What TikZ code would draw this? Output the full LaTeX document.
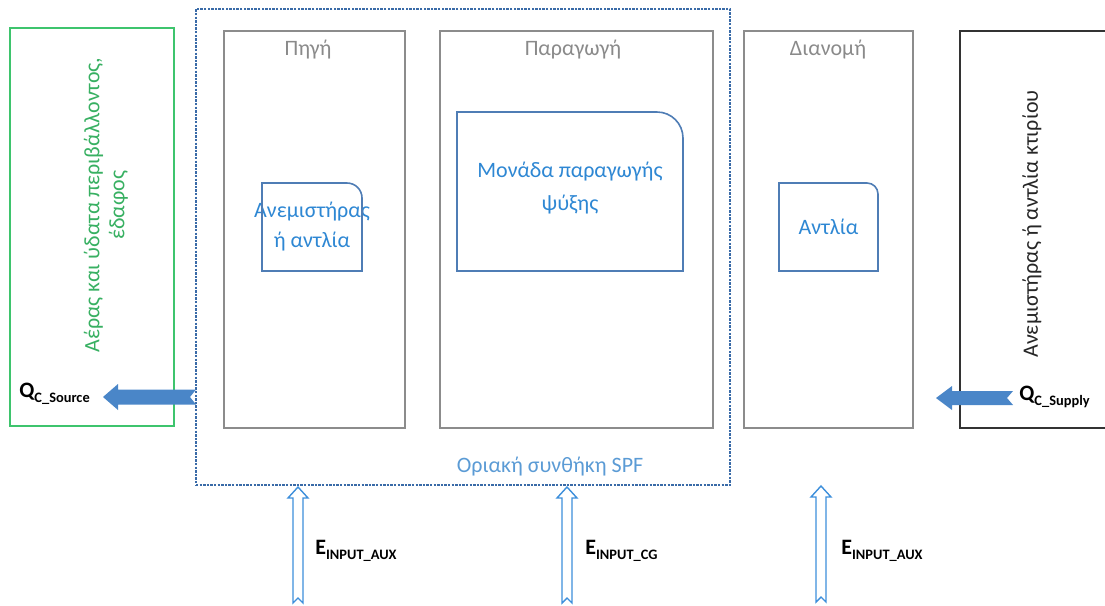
\documentclass[tikz,border=0pt]{standalone}
\usepackage{fontspec}
\setmainfont{Carlito}
\usetikzlibrary{fit,calc}
\definecolor{envgreen}{HTML}{3EC46D}
\definecolor{spfblue}{HTML}{3A6BA8}
\definecolor{boxgray}{HTML}{8C8C8C}
\definecolor{titlegray}{HTML}{8A8A8A}
\definecolor{innerblue}{HTML}{4F7DB5}
\definecolor{textblue}{HTML}{2E87D3}
\definecolor{lightblue}{HTML}{5B9BD5}
\definecolor{arrowfill}{HTML}{4A86C8}
\definecolor{arrowline}{HTML}{3D8FDB}
\newcommand{\qlabel}[2]{{\fontsize{11}{13}\selectfont\bfseries #1}{\fontsize{7.2}{8}\selectfont\bfseries\raisebox{-2.4pt}{#2}}}
\begin{document}
\begin{tikzpicture}[x=0.5pt,y=-0.5pt,
  basebox/.style={inner sep=0pt, outer sep=0pt},
  greenbox/.style={basebox, draw=envgreen, line width=0.8pt},
  spfbox/.style={basebox, draw=spfblue, line width=0.8pt, dash pattern=on 1.2pt off 0.6pt},
  graybox/.style={basebox, draw=boxgray, line width=0.8pt},
  bldbox/.style={basebox, draw=black!80, line width=0.8pt},
  inner/.style={basebox, text=textblue, align=center, font=\fontsize{11}{15}\selectfont},
  innerline/.style={draw=innerblue, line width=0.8pt},
  title/.style={text=titlegray, font=\fontsize{11}{13}\selectfont, inner sep=0pt},
  envtext/.style={text=envgreen!90!black, font=\fontsize{11}{12.5}\selectfont, align=center, inner sep=0pt},
  bldtext/.style={text=black!85, font=\fontsize{11}{13}\selectfont, inner sep=0pt},
  spftext/.style={text=lightblue, font=\fontsize{11}{13}\selectfont, inner sep=0pt},
  blockarrow/.style={fill=arrowfill, draw=none},
  hollowarrow/.style={draw=arrowline, fill=white, line width=0.7pt, line join=miter},
  qlbl/.style={inner sep=0pt, anchor=west}
]
\useasboundingbox (0,0) rectangle (1105,606);

% outer frames
\node[greenbox, fit={(10,28)(174,426)}] (env) {};
\node[spfbox, fit={(196,9)(730,485)}] (spf) {};
\node[graybox, fit={(224,31)(405,428)}] (src) {};
\node[graybox, fit={(440,31)(713,428)}] (prod) {};
\node[graybox, fit={(744,31)(913,428)}] (dist) {};
\node[bldbox, fit={(960,31)(1125,428)}] (bld) {};

% titles
\node[title] (srct) at (308,50) {Πηγή};
\node[title] (prodt) at (573,50) {Παραγωγή};
\node[title] (distt) at (828,50) {Διανομή};

% rotated texts
\node[envtext, rotate=90] (envlbl) at (106,205) {Αέρας και ύδατα περιβάλλοντος,\\ έδαφος};
\node[bldtext, rotate=90] (bldlbl) at (1032,224) {Ανεμιστήρας ή αντλία κτιρίου};

% inner components
\node[inner, fit={(262,183)(362,271)}] (fan) {};
\node[inner] (fant) at (fan.center) {Ανεμιστήρας\\ ή αντλία};
\node[inner, fit={(457,112)(683,271)}] (unit) {};
\node[inner, font=\fontsize{11}{16.5}\selectfont] (unitt) at ($(unit.center)+(0,-3)$) {Μονάδα παραγωγής\\ ψύξης};
\node[inner, fit={(779,183)(878,271)}] (pump) {};
\node[inner] (pumpt) at (pump.center) {Αντλία};

\draw[innerline] (fan.south west) -- (fan.north west) -- ([xshift=-7.5pt]fan.north east) arc[start angle=90, end angle=0, radius=7.5pt] -- (fan.south east) -- cycle;
\draw[innerline] (unit.south west) -- (unit.north west) -- ([xshift=-13pt]unit.north east) arc[start angle=90, end angle=0, radius=13pt] -- (unit.south east) -- cycle;
\draw[innerline] (pump.south west) -- (pump.north west) -- ([xshift=-5.5pt]pump.north east) arc[start angle=90, end angle=0, radius=5.5pt] -- (pump.south east) -- cycle;

% SPF label
\node[spftext] (spft) at (550,467) {Οριακή συνθήκη SPF};

% heat flow arrows
\coordinate (qsrc) at (103,397);
\begin{scope}[shift={(qsrc)}]
  \fill[blockarrow] (0,0) -- (15,-13) -- (15,-7.5) -- (93,-7.5) -- (87,0) -- (93,7.5) -- (15,7.5) -- (15,13) -- cycle;
\end{scope}
\coordinate (qsup) at (936,398);
\begin{scope}[shift={(qsup)}]
  \fill[blockarrow] (0,0) -- (16,-12) -- (16,-7) -- (77,-7) -- (71,0) -- (77,7) -- (16,7) -- (16,12) -- cycle;
\end{scope}
\node[qlbl] (qsrcl) at (19,394) {\qlabel{Q}{C\_Source}};
\node[qlbl] (qsupl) at (1019,397) {\qlabel{Q}{C\_Supply}};

% energy input arrows
\coordinate (e1) at (298,487);
\coordinate (e2) at (567,487);
\coordinate (e3) at (821,486);
\foreach \c in {e1,e2,e3}{
  \begin{scope}[shift={(\c)}]
    \draw[hollowarrow] (0,0) -- (10,11) -- (5,11) -- (5,116) -- (0,111) -- (-5,116) -- (-5,11) -- (-10,11) -- cycle;
  \end{scope}
}
\node[qlbl] (e1l) at (315,551) {\qlabel{E}{INPUT\_AUX}};
\node[qlbl] (e2l) at (585,551) {\qlabel{E}{INPUT\_CG}};
\node[qlbl] (e3l) at (841,551) {\qlabel{E}{INPUT\_AUX}};
\end{tikzpicture}
\end{document}
